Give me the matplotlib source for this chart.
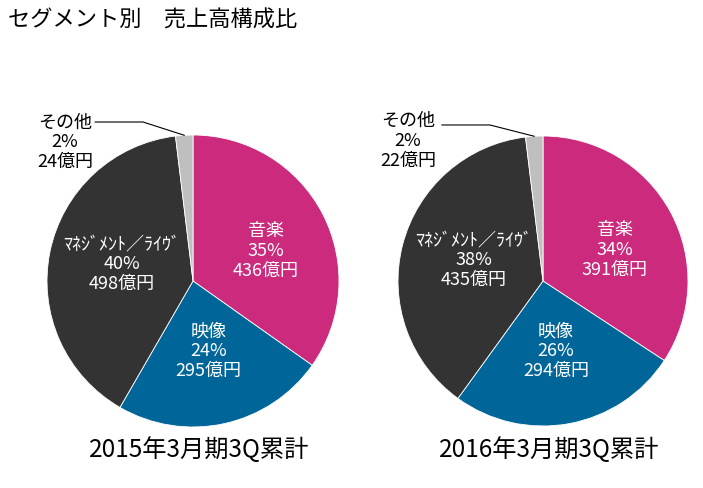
import numpy as np
import matplotlib.pyplot as plt

plt.rcParams['font.family'] = ['Noto Sans CJK JP', 'DejaVu Sans']

segments = ['音楽', '映像', 'ﾏﾈｼﾞﾒﾝﾄ／ﾗｲｳﾞ', 'その他']
colors = ['#CC2A7C', '#006699', '#333333', '#BFBFBF']
sales_2015 = [436, 295, 498, 24]
sales_2016 = [391, 294, 435, 22]
pct_2015 = ['35%', '24%', '40%', '2%']
pct_2016 = ['34%', '26%', '38%', '2%']
periods = ['2015年3月期3Q累計', '2016年3月期3Q累計']

W, H = 703, 488
fig = plt.figure(figsize=(W / 100, H / 100), dpi=100)
fig.text(8 / W, 1 - 20 / H, 'セグメント別　売上高構成比', fontsize=16, va='center', ha='left')

# pie centre / radius in pixels
pies = [(193, 281, 146), (543, 281, 145)]
label_r = [0.54, 0.49, 0.5]
label_shift = [-5, 0, -2]   # degrees, nudges label off the wedge middle
other_label = [(-0.877, 0.952, -0.67, -0.342, 1.089),
               (-0.931, 0.966, -0.697, -0.366, 1.076)]

for i, (vals, pcts) in enumerate([(sales_2015, pct_2015), (sales_2016, pct_2016)]):
    cx, cy, r = pies[i]
    ax = fig.add_axes([(cx - r) / W, (H - cy - r) / H, 2 * r / W, 2 * r / H])
    wedges, _ = ax.pie(vals, colors=colors, startangle=90, counterclock=False,
                       wedgeprops=dict(edgecolor='white', linewidth=0.6), radius=1)
    ax.set_xlim(-1, 1)
    ax.set_ylim(-1, 1)
    ax.axis('off')
    for k in range(3):
        w = wedges[k]
        mid = np.deg2rad((w.theta1 + w.theta2) / 2 + label_shift[k])
        txt = '%s\n%s\n%d億円' % (segments[k], pcts[k], vals[k])
        ax.text(label_r[k] * np.cos(mid), label_r[k] * np.sin(mid), txt,
                color='white', fontsize=13, ha='center', va='center',
                linespacing=1.12)
    # small "other" slice, labelled outside with a leader line
    w = wedges[3]
    mid = np.deg2rad((w.theta1 + w.theta2) / 2)
    lx, ly, x0, x1, yl = other_label[i]
    ax.text(lx, ly, '%s\n%s\n%d億円' % (segments[3], pcts[3], vals[3]),
            fontsize=13, ha='center', va='center', linespacing=1.12)
    ax.plot([x0, x1, np.cos(mid)], [yl, yl, np.sin(mid)], color='black',
            linewidth=0.8, clip_on=False)
    fig.text((cx + 6) / W, 1 - 450 / H, periods[i], fontsize=17.5,
             ha='center', va='center')

fig.savefig('out.png', dpi=100)
